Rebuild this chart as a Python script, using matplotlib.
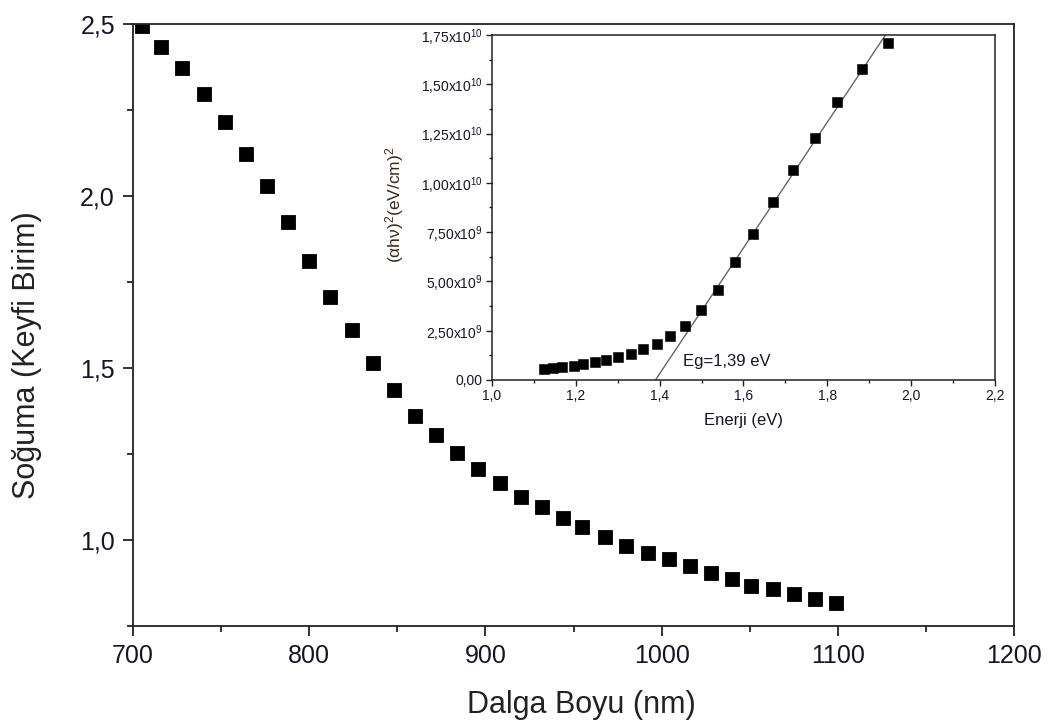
import matplotlib
matplotlib.use("Agg")
import matplotlib.pyplot as plt
from matplotlib.ticker import MultipleLocator, FuncFormatter
import numpy as np

plt.rcParams['font.family'] = ['Liberation Sans', 'DejaVu Sans']
plt.rcParams['mathtext.fontset'] = 'custom'
plt.rcParams['mathtext.rm'] = 'Liberation Sans'
plt.rcParams['mathtext.it'] = 'Liberation Sans:italic'
plt.rcParams['mathtext.bf'] = 'Liberation Sans:bold'

# Absorption spectrum (arbitrary units) vs wavelength
wavelength_nm = [705, 716, 728, 740, 752, 764, 776, 788, 800, 812, 824, 836,
                 848, 860, 872, 884, 896, 908, 920, 932, 944, 955, 968, 980,
                 992, 1004, 1016, 1028, 1040, 1051, 1063, 1075, 1087, 1099]
absorbance = [2.495, 2.434, 2.373, 2.297, 2.216, 2.122, 2.029, 1.924, 1.812,
              1.707, 1.610, 1.515, 1.436, 1.360, 1.305, 1.252, 1.206, 1.165,
              1.126, 1.097, 1.063, 1.037, 1.008, 0.983, 0.963, 0.944, 0.924,
              0.903, 0.886, 0.867, 0.857, 0.842, 0.828, 0.816]

# Tauc plot: (alpha h nu)^2 vs photon energy
energy_ev = [1.124, 1.146, 1.166, 1.196, 1.218, 1.246, 1.271, 1.300, 1.331,
             1.361, 1.394, 1.425, 1.460, 1.498, 1.540, 1.580, 1.623, 1.670,
             1.717, 1.771, 1.824, 1.882, 1.945]
tauc_y = [5.4e8, 6.1e8, 6.6e8, 7.1e8, 8.0e8, 9.1e8, 1.01e9, 1.17e9, 1.34e9,
          1.56e9, 1.85e9, 2.23e9, 2.74e9, 3.55e9, 4.57e9, 5.96e9, 7.39e9,
          9.03e9, 1.065e10, 1.225e10, 1.410e10, 1.580e10, 1.708e10]

# Linear fit of the absorption edge
band_gap_ev = 1.39
fit_slope = 3.19e10          # per eV
fit_end_ev = 1.95

text_color = '#15152a'

fig = plt.figure(figsize=(10.61, 7.26), dpi=100)

# ---------------- main axes ----------------
ax = fig.add_axes([0.1254, 0.1377, 0.8303, 0.8292])
ax.plot(wavelength_nm, absorbance, linestyle='none', marker='s',
        markersize=10.2, markerfacecolor='black', markeredgecolor='black',
        markeredgewidth=0.6)
ax.set_xlim(700, 1200)
ax.set_ylim(0.75, 2.5)
ax.xaxis.set_major_locator(MultipleLocator(100))
ax.xaxis.set_minor_locator(MultipleLocator(50))
ax.yaxis.set_major_locator(MultipleLocator(0.5))
ax.yaxis.set_minor_locator(MultipleLocator(0.25))
ax.yaxis.set_major_formatter(FuncFormatter(lambda v, p: f"{v:.1f}".replace('.', ',')))
ax.xaxis.set_major_formatter(FuncFormatter(lambda v, p: f"{v:.0f}"))
ax.tick_params(which='both', direction='out', width=1.3, colors='#222222',
               labelcolor=text_color, labelsize=18)
ax.tick_params(which='major', length=7, pad=6)
ax.tick_params(which='minor', length=4)
for s in ax.spines.values():
    s.set_linewidth(1.3)
    s.set_color('#222222')
ax.set_xlabel('Dalga Boyu (nm)', fontsize=22, color='#222222')
ax.set_ylabel('Soğuma (Keyfi Birim)', fontsize=22, color='#222222')
ax.xaxis.set_label_coords(0.5085, -0.131)
ax.yaxis.set_label_coords(-0.12, 0.45)
ax.xaxis.label.set_va('center')
ax.yaxis.label.set_va('center')

# ---------------- inset (Tauc plot) ----------------
ins = fig.add_axes([0.4637, 0.4766, 0.4741, 0.4752])
ins.plot(energy_ev, tauc_y, linestyle='none', marker='s', markersize=6.8,
         markerfacecolor='black', markeredgecolor='black', markeredgewidth=0.4,
         zorder=3)
fit_x = np.array([band_gap_ev, fit_end_ev])
ins.plot(fit_x, fit_slope * (fit_x - band_gap_ev), color='#666666', lw=1.0,
         zorder=2)
ins.set_xlim(1.0, 2.2)
ins.set_ylim(0, 1.75e10)
ins.xaxis.set_major_locator(MultipleLocator(0.2))
ins.xaxis.set_minor_locator(MultipleLocator(0.1))
ins.yaxis.set_major_locator(MultipleLocator(2.5e9))
ins.yaxis.set_minor_locator(MultipleLocator(1.25e9))


def sci_comma(v, pos):
    if abs(v) < 1e-3:
        return '0,00'
    exp = int(np.floor(np.log10(abs(v))))
    mant = v / 10 ** exp
    return f"{mant:.2f}".replace('.', ',') + r'x10$^{' + str(exp) + '}$'


ins.yaxis.set_major_formatter(FuncFormatter(sci_comma))
ins.xaxis.set_major_formatter(FuncFormatter(lambda v, p: f"{v:.1f}".replace('.', ',')))
ins.tick_params(which='both', direction='out', width=1.0, colors='#222222',
                labelcolor=text_color, labelsize=10)
ins.tick_params(which='major', length=4.5, pad=2)
ins.tick_params(which='minor', length=2.5)
for s in ins.spines.values():
    s.set_linewidth(1.1)
    s.set_color('#222222')
ins.set_xlabel('Enerji (eV)', fontsize=12, color=text_color)
ins.set_ylabel(r'$(\mathrm{\alpha h\nu})^{2}$(eV/cm)$^{2}$', fontsize=12.5,
               color='#3a2a1a')
ins.xaxis.set_label_coords(0.5, -0.116)
ins.yaxis.set_label_coords(-0.193, 0.507)
ins.xaxis.label.set_va('center')
ins.yaxis.label.set_va('center')
ins.text(1.456, 9.5e8, 'Eg=' + f"{band_gap_ev:.2f}".replace('.', ',') + ' eV',
         fontsize=12, color=text_color, va='center', ha='left')

fig.savefig('out.png', dpi=100)
